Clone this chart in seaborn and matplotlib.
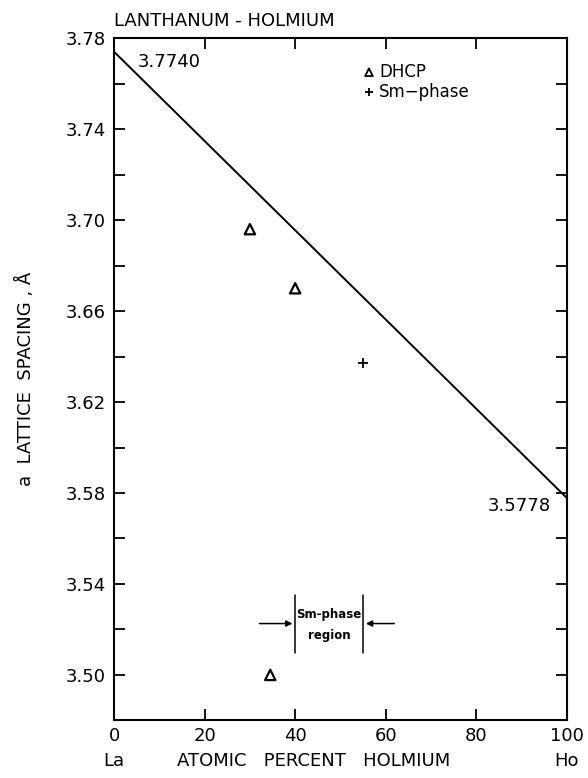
import matplotlib
matplotlib.use("Agg")
import matplotlib.pyplot as plt
import seaborn as sns
import pandas as pd

# ---- data ----
line_x = [0, 100]
line_y = [3.7740, 3.5778]
dhcp_x = [30, 40, 34.5]
dhcp_y = [3.696, 3.670, 3.500]
sm_x = [55]
sm_y = [3.637]
x_ticks = [0, 20, 40, 60, 80, 100]
y_ticks = [3.50, 3.54, 3.58, 3.62, 3.66, 3.70, 3.74, 3.78]
region_bounds = [40, 55]

sns.set_style("ticks")
plt.rcParams['font.family'] = ['DejaVu Sans']
plt.rcParams['text.color'] = 'black'
plt.rcParams['axes.labelcolor'] = 'black'

fig = plt.figure(figsize=(5.88, 7.78), dpi=100)
ax = fig.add_axes([0.194, 0.074, 0.770, 0.877])

line_df = pd.DataFrame({"x": line_x, "y": line_y})
sns.lineplot(data=line_df, x="x", y="y", ax=ax, color="black", lw=1.4)

dhcp_df = pd.DataFrame({"x": dhcp_x, "y": dhcp_y})
sns.scatterplot(data=dhcp_df, x="x", y="y", ax=ax, marker="^", s=55,
                facecolor="none", edgecolor="black", linewidth=1.6)
sm_df = pd.DataFrame({"x": sm_x, "y": sm_y})
sns.scatterplot(data=sm_df, x="x", y="y", ax=ax, marker="+", s=60,
                color="black", linewidth=1.3)

ax.set_xlim(0, 100)
ax.set_ylim(3.48, 3.78)
ax.set_xticks(x_ticks)
ax.set_xticklabels([str(v) for v in x_ticks])
ax.set_yticks(y_ticks)
ax.set_yticklabels([f"{v:.2f}" for v in y_ticks])
ax.set_yticks([v + 0.02 for v in y_ticks[:-1]] + [3.48], minor=True)
ax.tick_params(axis="both", which="both", direction="in", length=8, width=1.3,
               top=True, right=True, labelsize=13, colors="black", pad=6)
ax.tick_params(axis="x", which="major", pad=5)
for s in ax.spines.values():
    s.set_linewidth(1.5)
    s.set_color("black")
ax.set_xlabel("")
ax.set_ylabel("a  LATTICE  SPACING , Å", fontsize=13, labelpad=22)

# title
ax.text(0, 1.012, "LANTHANUM - HOLMIUM", transform=ax.transAxes,
        fontsize=13, ha="left", va="bottom")

# x axis subtitles
ax.text(0, -0.046, "La", transform=ax.transAxes, fontsize=13, ha="center", va="top")
ax.text(1, -0.046, "Ho", transform=ax.transAxes, fontsize=13, ha="center", va="top")
ax.text(0.44, -0.046, "ATOMIC   PERCENT   HOLMIUM", transform=ax.transAxes,
        fontsize=13, ha="center", va="top")

# endpoint labels
ax.text(5.2, 3.7696, "3.7740", fontsize=13, ha="left", va="center")
ax.text(96.5, 3.5745, "3.5778", fontsize=13, ha="right", va="center")

# legend
ax.scatter([56.3], [3.765], marker="^", s=30, facecolor="none", edgecolor="black", linewidth=1.3)
ax.text(58.5, 3.765, "DHCP", fontsize=12, ha="left", va="center")
ax.scatter([56.3], [3.7565], marker="+", s=40, color="black", linewidth=1.3)
ax.text(58.5, 3.7565, "Sm\u2212phase", fontsize=12, ha="left", va="center")

# Sm-phase region
for bx in region_bounds:
    ax.plot([bx, bx], [3.5095, 3.535], color="black", lw=1.1)
ax.annotate("", xy=(region_bounds[0], 3.5226), xytext=(31.5, 3.5226),
            arrowprops=dict(arrowstyle="-|>", color="black", lw=1.1, mutation_scale=9))
ax.annotate("", xy=(region_bounds[1], 3.5226), xytext=(62.5, 3.5226),
            arrowprops=dict(arrowstyle="-|>", color="black", lw=1.1, mutation_scale=9))
ax.text(47.5, 3.5265, "Sm-phase", fontsize=8.5, fontweight="bold", ha="center", va="center")
ax.text(47.5, 3.5175, "region", fontsize=8.5, fontweight="bold", ha="center", va="center")

fig.savefig("out.png", dpi=100)
